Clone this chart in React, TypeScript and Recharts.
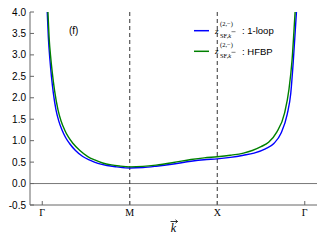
import { LineChart, Line, XAxis, YAxis, ReferenceLine, ReferenceDot, Legend } from "recharts";

// high-symmetry path: Γ -> M -> X -> Γ
const pathTicks = [0, 1, 2, 3];
const pathLabels = ["Γ", "M", "X", "Γ"];
const zTicks = [-0.5, 0, 0.5, 1, 1.5, 2, 2.5, 3, 3.5, 4];

// z_SF,k^(2,-) : 1-loop
const kOneLoop = [0.045, 0.057, 0.07, 0.088, 0.105, 0.126, 0.157, 0.19, 0.226, 0.265, 0.31, 0.38, 0.463, 0.55, 0.636, 0.74, 0.85, 1.0, 1.15, 1.3, 1.5, 1.7, 1.85, 2.0, 2.15, 2.3, 2.42, 2.55, 2.65, 2.73, 2.8, 2.84, 2.87, 2.905, 2.925];
const zOneLoop = [4.6, 4.0, 3.4, 2.88, 2.5, 2.12, 1.72, 1.45, 1.25, 1.08, 0.94, 0.77, 0.63, 0.54, 0.47, 0.42, 0.39, 0.364, 0.375, 0.405, 0.457, 0.52, 0.555, 0.575, 0.61, 0.66, 0.71, 0.81, 0.94, 1.18, 1.62, 2.1, 2.88, 4.0, 4.6];

// z_SF,k^(2,-) : HFBP
const kHfbp = [0.052, 0.065, 0.08, 0.095, 0.115, 0.14, 0.18, 0.215, 0.256, 0.3, 0.35, 0.43, 0.52, 0.6, 0.69, 0.79, 0.88, 1.0, 1.15, 1.3, 1.5, 1.7, 1.85, 2.0, 2.15, 2.3, 2.4, 2.5, 2.59, 2.68, 2.77, 2.82, 2.855, 2.89, 2.91];
const zHfbp = [4.6, 4.0, 3.35, 2.98, 2.58, 2.18, 1.72, 1.46, 1.25, 1.08, 0.94, 0.77, 0.63, 0.55, 0.48, 0.435, 0.41, 0.39, 0.4, 0.43, 0.49, 0.56, 0.6, 0.625, 0.66, 0.71, 0.77, 0.86, 0.97, 1.2, 1.65, 2.2, 2.88, 4.0, 4.6];

const oneLoopData = kOneLoop.map((k, i) => ({ k, z: zOneLoop[i] }));
const hfbpData = kHfbp.map((k, i) => ({ k, z: zHfbp[i] }));

const frame = "#666";
const sans = "Liberation Sans, Arial, sans-serif";
const serif = "Liberation Serif, Times New Roman, serif";

function LegendContent({ payload }: { payload?: any[] }) {
  return (
    <svg width={130} height={50} style={{ display: "block", overflow: "visible" }}>
      {(payload ?? []).map((entry, i) => {
        const y = 12.7 + i * 20.6;
        return (
          <g key={entry.value}>
            <line x1={4} x2={19} y1={y} y2={y} stroke={entry.color} strokeWidth={1.5} />
            <text x={25} y={y + 3} fontFamily={serif} fontStyle="italic" fontSize={9} fill="#000">z</text>
            <text x={30} y={y - 4.5} fontFamily={serif} fontSize={6.5} fill="#000">(2,−)</text>
            <text x={30} y={y + 7} fontFamily={serif} fontSize={6.5} fill="#000">
              SF,<tspan fontStyle="italic">k</tspan>
            </text>
            <path d={`M${41.5} ${y + 1}h4`} stroke="#000" strokeWidth={0.5} />
            <text x={52} y={y + 3.5} fontFamily={sans} fontSize={9.5} fill="#000">: {entry.value}</text>
          </g>
        );
      })}
    </svg>
  );
}

function KLabel({ viewBox }: { viewBox?: any }) {
  const cx = viewBox ? viewBox.x + viewBox.width / 2 : 174;
  return (
    <g>
      <text x={cx} y={231.5} textAnchor="middle" fontFamily={serif} fontStyle="italic" fontSize={12}>k</text>
      <path d={`M${cx - 3} 221.5h7 M${cx + 2} 219.8l2 1.7l-2 1.7`} stroke="#000" strokeWidth={0.8} fill="none" />
    </g>
  );
}

export default function App() {
  return (
    <div style={{ width: 325, height: 245, background: "#fff" }}>
      <style>{"body{margin:0}"}</style>
      <LineChart width={325} height={245} margin={{ top: 12, right: 8, bottom: 0, left: 0 }}>
        <XAxis
          dataKey="k"
          type="number"
          domain={[-0.14, 3.14]}
          ticks={pathTicks}
          tickFormatter={(v: number) => pathLabels[v]}
          allowDataOverflow
          height={40}
          stroke={frame}
          tickSize={-4}
          tickMargin={8}
          tick={{ fill: "#000", fontFamily: serif, fontSize: 10 }}
          label={<KLabel />}
        />
        <XAxis
          xAxisId="top"
          orientation="top"
          type="number"
          domain={[-0.14, 3.14]}
          ticks={pathTicks}
          allowDataOverflow
          height={0}
          stroke={frame}
          tickSize={-4}
          tick={false}
        />
        <YAxis
          type="number"
          domain={[-0.5, 4]}
          ticks={zTicks}
          allowDataOverflow
          width={30}
          stroke={frame}
          tickSize={-4}
          tickMargin={8}
          tickFormatter={(v: number) => v.toFixed(1)}
          tick={{ fill: "#000", fontFamily: sans, fontSize: 10 }}
        />
        <YAxis
          yAxisId="right"
          orientation="right"
          type="number"
          domain={[-0.5, 4]}
          ticks={zTicks}
          allowDataOverflow
          width={0}
          stroke={frame}
          tickSize={-4}
          tick={false}
        />
        <ReferenceLine y={0} stroke="#777" strokeWidth={1} />
        <ReferenceLine x={1} stroke="#333" strokeDasharray="4 3" />
        <ReferenceLine x={2} stroke="#333" strokeDasharray="4 3" />
        <ReferenceDot
          x={0.36}
          y={3.58}
          r={0}
          fill="none"
          stroke="none"
          label={{ value: "(f)", position: "center", fill: "#000", fontFamily: sans, fontSize: 10 }}
        />
        <Line
          data={oneLoopData}
          dataKey="z"
          name="1-loop"
          type="monotone"
          stroke="#0000ff"
          strokeWidth={1.4}
          dot={false}
          isAnimationActive={false}
        />
        <Line
          data={hfbpData}
          dataKey="z"
          name="HFBP"
          type="monotone"
          stroke="#008000"
          strokeWidth={1.4}
          dot={false}
          isAnimationActive={false}
        />
        <Legend
          layout="horizontal"
          verticalAlign="middle"
          align="center"
          content={<LegendContent />}
          wrapperStyle={{ left: 190, top: 18, width: 130, height: 50 }}
        />
      </LineChart>
    </div>
  );
}
